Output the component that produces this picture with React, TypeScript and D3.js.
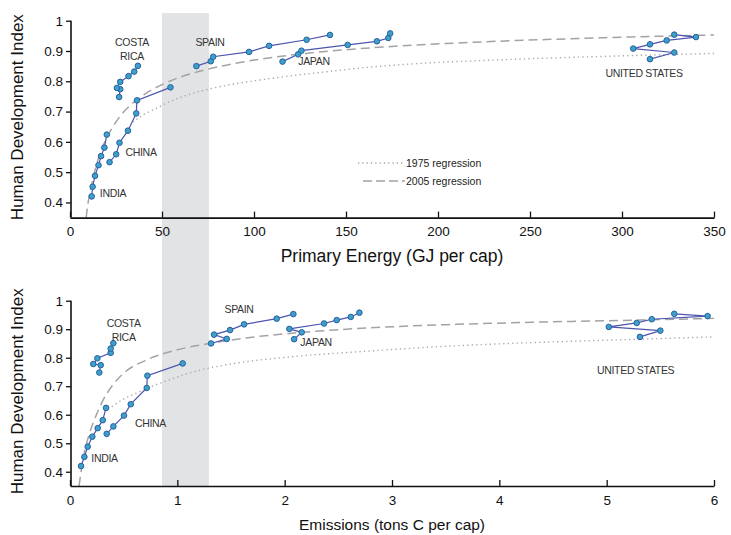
import React, { useEffect, useRef } from 'react';
import * as d3 from 'd3';

// HDI per country, 1975..2005 every 5 years
const years = [1975, 1980, 1985, 1990, 1995, 2000, 2005];
const countries = ['INDIA', 'CHINA', 'COSTA RICA', 'SPAIN', 'JAPAN', 'UNITED STATES'];

const hdi: Record<string, number[]> = {
  'INDIA': [0.420, 0.452, 0.488, 0.523, 0.553, 0.581, 0.624],
  'CHINA': [0.533, 0.559, 0.597, 0.637, 0.694, 0.737, 0.780],
  'COSTA RICA': [0.748, 0.774, 0.778, 0.798, 0.817, 0.832, 0.851],
  'SPAIN': [0.850, 0.866, 0.881, 0.897, 0.917, 0.937, 0.953],
  'JAPAN': [0.865, 0.889, 0.901, 0.920, 0.932, 0.943, 0.958],
  'UNITED STATES': [0.873, 0.895, 0.908, 0.922, 0.935, 0.946, 0.954],
};

// primary energy, GJ per cap
const energy: Record<string, number[]> = {
  'INDIA': [11.8, 12.3, 13.6, 15.5, 16.9, 18.7, 20.0],
  'CHINA': [21.5, 25.1, 26.9, 31.5, 36.0, 36.4, 54.6],
  'COSTA RICA': [26.7, 27.3, 25.5, 27.3, 31.8, 34.9, 36.9],
  'SPAIN': [68.7, 76.5, 77.8, 97.3, 108.2, 128.6, 141.3],
  'JAPAN': [115.5, 124.0, 125.8, 150.9, 166.8, 173.0, 174.0],
  'UNITED STATES': [315.2, 328.4, 306.1, 315.2, 324.3, 340.2, 328.4],
};

// emissions, tons C per cap
const emissions: Record<string, number[]> = {
  'INDIA': [0.103, 0.134, 0.165, 0.208, 0.258, 0.305, 0.336],
  'CHINA': [0.342, 0.404, 0.503, 0.566, 0.715, 0.721, 1.050],
  'COSTA RICA': [0.273, 0.286, 0.217, 0.255, 0.379, 0.379, 0.404],
  'SPAIN': [1.314, 1.460, 1.342, 1.491, 1.622, 1.926, 2.081],
  'JAPAN': [2.088, 2.159, 2.044, 2.367, 2.485, 2.616, 2.696],
  'UNITED STATES': [5.31, 5.50, 5.02, 5.28, 5.42, 5.94, 5.63],
};

// regression curves
const reg2005Energy = [8.8, 9, 12, 15, 20, 25, 30, 40, 50, 60, 75, 100, 130, 170, 220, 280, 350];
const reg2005EnergyHdi = [0.35, 0.361, 0.466, 0.537, 0.614, 0.666, 0.704, 0.755, 0.789, 0.814, 0.840, 0.870, 0.893, 0.913, 0.929, 0.942, 0.953];
const reg1975Energy = [34, 40, 47, 55, 65, 76, 90, 104, 120, 140, 160, 185, 230, 278, 350];
const reg1975EnergyHdi = [0.665, 0.690, 0.711, 0.735, 0.757, 0.775, 0.792, 0.805, 0.818, 0.832, 0.845, 0.857, 0.870, 0.880, 0.892];

const reg2005Emis = [0.085, 0.09, 0.13, 0.17, 0.22, 0.3, 0.4, 0.53, 0.7, 0.85, 1.0, 1.3, 1.7, 2.2, 2.8, 3.6, 4.5, 5.3, 6.0];
const reg2005EmisHdi = [0.35, 0.365, 0.46, 0.52, 0.575, 0.645, 0.705, 0.755, 0.79, 0.812, 0.828, 0.85, 0.872, 0.89, 0.905, 0.917, 0.926, 0.932, 0.938];
const reg1975Emis = [0.39, 0.5, 0.65, 0.8, 0.9, 1.1, 1.5, 2.0, 2.77, 3.5, 4.54, 5.3, 6.0];
const reg1975EmisHdi = [0.628, 0.655, 0.681, 0.705, 0.719, 0.745, 0.778, 0.801, 0.823, 0.840, 0.856, 0.865, 0.873];

// shaded threshold band (energy units)
const bandEnergy = [50, 75.5];

const energyTicks = [0, 50, 100, 150, 200, 250, 300, 350];
const emisTicks = [0, 1, 2, 3, 4, 5, 6];
const hdiTicks = [0.4, 0.5, 0.6, 0.7, 0.8, 0.9, 1];

// label anchors in data space
const energyLabels: [string, number, number][] = [
  ['COSTA|RICA', 33.7, 0.93], ['SPAIN', 76.1, 0.93], ['CHINA', 38.6, 0.567],
  ['INDIA', 23.4, 0.431], ['JAPAN', 132.6, 0.867], ['UNITED STATES', 312, 0.827],
];
const emisLabels: [string, number, number][] = [
  ['COSTA|RICA', 0.5, 0.922], ['SPAIN', 1.575, 0.971], ['CHINA', 0.75, 0.571],
  ['INDIA', 0.322, 0.448], ['JAPAN', 2.293, 0.855], ['UNITED STATES', 5.27, 0.757],
];

const FONT = "'Liberation Sans', Arial, sans-serif";

export default function App() {
  const svgRef = useRef<SVGSVGElement>(null);

  useEffect(() => {
    const svg = d3.select(svgRef.current);
    svg.selectAll('*').remove();

    const xE = d3.scaleLinear().domain([0, 350]).range([70, 714]);
    const yE = d3.scaleLinear().domain([0.35, 1]).range([217.6, 20.7]);
    const xC = d3.scaleLinear().domain([0, 6]).range([70, 714]);
    const yC = d3.scaleLinear().domain([0.35, 1]).range([486, 300.7]);

    // grey band through both panels
    svg.append('rect')
      .attr('x', xE(bandEnergy[0]))
      .attr('width', xE(bandEnergy[1]) - xE(bandEnergy[0]))
      .attr('y', 13)
      .attr('height', yC(0.35) - 13)
      .attr('fill', '#e2e3e5');

    const panel = (
      x: d3.ScaleLinear<number, number>, y: d3.ScaleLinear<number, number>,
      xs: Record<string, number[]>, r05x: number[], r05y: number[], r75x: number[], r75y: number[],
      xTicks: number[], labels: [string, number, number][], xTitle: string, titleSize: number
    ) => {
      const g = svg.append('g');
      const ln = d3.line<[number, number]>().x(d => x(d[0])).y(d => y(d[1])).curve(d3.curveMonotoneX);

      g.append('path').attr('d', ln(r75x.map((v, i) => [v, r75y[i]])))
        .attr('fill', 'none').attr('stroke', '#a8a8a8').attr('stroke-width', 1.4)
        .attr('stroke-dasharray', '1.3,3.2');
      g.append('path').attr('d', ln(r05x.map((v, i) => [v, r05y[i]])))
        .attr('fill', 'none').attr('stroke', '#a3a3a3').attr('stroke-width', 1.5)
        .attr('stroke-dasharray', '9,5');

      const straight = d3.line<[number, number]>().x(d => x(d[0])).y(d => y(d[1]));
      countries.forEach(c => {
        const pts: [number, number][] = xs[c].map((v, i) => [v, hdi[c][i]]);
        g.append('path').attr('d', straight(pts))
          .attr('fill', 'none').attr('stroke', '#4c55ae').attr('stroke-width', 1.2);
        g.selectAll(null).data(pts).join('circle')
          .attr('cx', d => x(d[0])).attr('cy', d => y(d[1])).attr('r', 2.8)
          .attr('fill', '#3ba1cb').attr('stroke', '#2b5f9e').attr('stroke-width', 1);
      });

      labels.forEach(([t, lx, ly]) => {
        const parts = t.split('|');
        const txt = g.append('text').attr('x', x(lx)).attr('y', y(ly))
          .attr('text-anchor', 'middle').attr('font-family', FONT).attr('font-size', 10.5)
          .attr('letter-spacing', -0.3).attr('fill', '#333');
        parts.forEach((p, i) => txt.append('tspan').attr('x', x(lx)).attr('dy', i === 0 ? '0.35em' : '1.4em').text(p));
      });

      const xAxis = g.append('g').attr('transform', `translate(0,${y(0.35)})`)
        .call(d3.axisBottom(x).tickValues(xTicks).tickSize(-6).tickSizeOuter(0).tickPadding(9).tickFormat(d3.format('~g')));
      const yAxis = g.append('g').attr('transform', `translate(${x(0) + 1},0)`)
        .call(d3.axisLeft(y).tickValues(hdiTicks).tickSize(5).tickSizeOuter(0).tickPadding(3).tickFormat(d3.format('~g')));
      [xAxis, yAxis].forEach(a => {
        a.select('.domain').attr('stroke', '#111').attr('stroke-width', 1.6);
        a.selectAll('.tick line').attr('stroke', '#111').attr('stroke-width', 1.3);
        a.selectAll('.tick text').attr('font-family', FONT).attr('font-size', 13.5).attr('fill', '#111');
      });
      yAxis.select('.domain').attr('d', `M0,${y(1)}V${y(0.35)}`);

      g.append('text').attr('x', 392).attr('y', y(0.35) + 44).attr('text-anchor', 'middle')
        .attr('font-family', FONT).attr('font-size', titleSize).attr('fill', '#111').text(xTitle);
      g.append('text').attr('transform', `translate(23,${(y(1) + y(0.35)) / 2 - 2}) rotate(-90)`)
        .attr('text-anchor', 'middle').attr('font-family', FONT).attr('font-size', 17).attr('fill', '#111')
        .text('Human Development Index');
    };

    panel(xE, yE, energy, reg2005Energy, reg2005EnergyHdi, reg1975Energy, reg1975EnergyHdi,
      energyTicks, energyLabels, 'Primary Energy (GJ per cap)', 17.5);
    panel(xC, yC, emissions, reg2005Emis, reg2005EmisHdi, reg1975Emis, reg1975EmisHdi,
      emisTicks, emisLabels, 'Emissions (tons C per cap)', 15.5);

    // legend
    const lg = svg.append('g').attr('font-family', FONT).attr('font-size', 10.5).attr('fill', '#222');
    lg.append('line').attr('x1', 358).attr('x2', 404).attr('y1', 163).attr('y2', 163)
      .attr('stroke', '#a8a8a8').attr('stroke-width', 1.3).attr('stroke-dasharray', '1.3,3');
    lg.append('text').attr('x', 406).attr('y', 166.5).text('1975 regression');
    lg.append('line').attr('x1', 363).attr('x2', 405).attr('y1', 181).attr('y2', 181)
      .attr('stroke', '#a3a3a3').attr('stroke-width', 1.3).attr('stroke-dasharray', '9,4');
    lg.append('text').attr('x', 406).attr('y', 184.5).text('2005 regression');
  }, []);

  return (
    <svg ref={svgRef} width={731} height={535}
      style={{ position: 'absolute', left: 0, top: 0, background: '#fff' }} />
  );
}
